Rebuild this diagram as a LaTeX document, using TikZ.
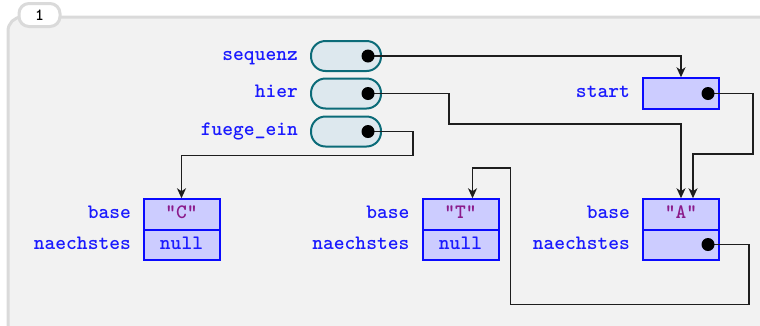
\documentclass[tikz,border=0pt]{standalone}
\usetikzlibrary{arrows.meta}
\definecolor{bgc}{HTML}{F2F2F2}
\definecolor{framec}{HTML}{DADADA}
\definecolor{lblc}{HTML}{1A1AFF}
\definecolor{boxfill}{HTML}{CCCCFF}
\definecolor{boxdraw}{HTML}{0A0AFF}
\definecolor{ptrfill}{HTML}{DDE8EE}
\definecolor{ptrdraw}{HTML}{0B6B78}
\definecolor{strc}{HTML}{8B1A8B}
\definecolor{linec}{HTML}{1E1E1E}
\begin{document}
\begin{tikzpicture}[x=1pt,y=-1pt,
  txt/.style={font=\fontsize{20.5}{24}\selectfont\ttfamily\bfseries,text height=12pt,text depth=4pt},
  lbl/.style={txt,anchor=east,text=lblc,inner sep=0pt},
  ptr/.style={draw=ptrdraw,fill=ptrfill,line width=2pt,rounded corners=14.5pt,minimum width=70pt,minimum height=30pt,inner sep=0pt},
  cell/.style={txt,draw=boxdraw,fill=boxfill,line width=2pt,minimum width=76pt,minimum height=30.5pt,inner sep=0pt,text=lblc},
  dot/.style={circle,fill=black,inner sep=0pt,minimum size=13pt},
  link/.style={draw=linec,line width=1.6pt},
  arr/.style={link,-{Stealth[length=10pt,width=9pt,inset=3pt]}}
]
\useasboundingbox (0,0) rectangle (760,325);
\clip (0,0) rectangle (760,325);
% frame
\draw[draw=framec,fill=bgc,line width=3pt,rounded corners=14pt] (8,17) rectangle (790,355);
\node[draw=framec,fill=white,line width=3pt,rounded corners=10pt,minimum width=41pt,minimum height=23pt,inner sep=0pt,font=\fontsize{17}{19}\selectfont\ttfamily\bfseries] (tab) at (39.5,15) {1};

% pointer variables
\node[ptr] (sequenz) at (346,56) {};
\node[ptr] (hier) at (346,93.5) {};
\node[ptr] (fuege) at (346,131.5) {};
\node[lbl] (lseq) at (298,56) {sequenz};
\node[lbl] (lhier) at (298,93.5) {hier};
\node[lbl] (lfuege) at (298,131.5) {fuege\_ein};

% start
\node[cell] (start) at (681,93.5) {};
\node[lbl] (lstart) at (630,93.5) {start};

% list cells
\node[cell] (cb) at (181.5,214.5) {\textcolor{strc}{"C"}};
\node[cell] (cn) at (181.5,245) {null};
\node[lbl] (lcb) at (131,214.5) {base};
\node[lbl] (lcn) at (131,245) {naechstes};

\node[cell] (tb) at (460.5,214.5) {\textcolor{strc}{"T"}};
\node[cell] (tn) at (460.5,245) {null};
\node[lbl] (ltb) at (409.5,214.5) {base};
\node[lbl] (ltn) at (409.5,245) {naechstes};

\node[cell] (ab) at (681,214.5) {\textcolor{strc}{"A"}};
\node[cell] (an) at (681,245) {};
\node[lbl] (lab) at (630,214.5) {base};
\node[lbl] (lan) at (630,245) {naechstes};

% bend points
\coordinate (h1) at (449,124);
\coordinate (f1) at (413,155.5);
\coordinate (s1) at (753,154);
\coordinate (s2) at (693,154);
\coordinate (a1) at (749,304.5);
\coordinate (a2) at (510.5,168);

% dots
\coordinate (pseq) at (368,56);
\coordinate (phier) at (368,93.5);
\coordinate (pfuege) at (368,131.5);
\coordinate (pstart) at (708,93.5);
\coordinate (pan) at (708,244.5);

% connectors
\draw[arr] (pseq) -| (start.north);
\draw[arr] (phier) -| (h1) -| (ab.north);
\draw[arr] (pfuege) -| (f1) -| (cb.north);
\draw[arr] (pstart) -| (s1) -- (s2) -- (s2 |- ab.north);
\draw[arr] (pan) -| (a1) -| (a2) -| ([xshift=12pt]tb.north);
\node[dot] (dseq) at (pseq) {};
\node[dot] (dhier) at (phier) {};
\node[dot] (dfuege) at (pfuege) {};
\node[dot] (dstart) at (pstart) {};
\node[dot] (dan) at (pan) {};
\end{tikzpicture}
\end{document}
